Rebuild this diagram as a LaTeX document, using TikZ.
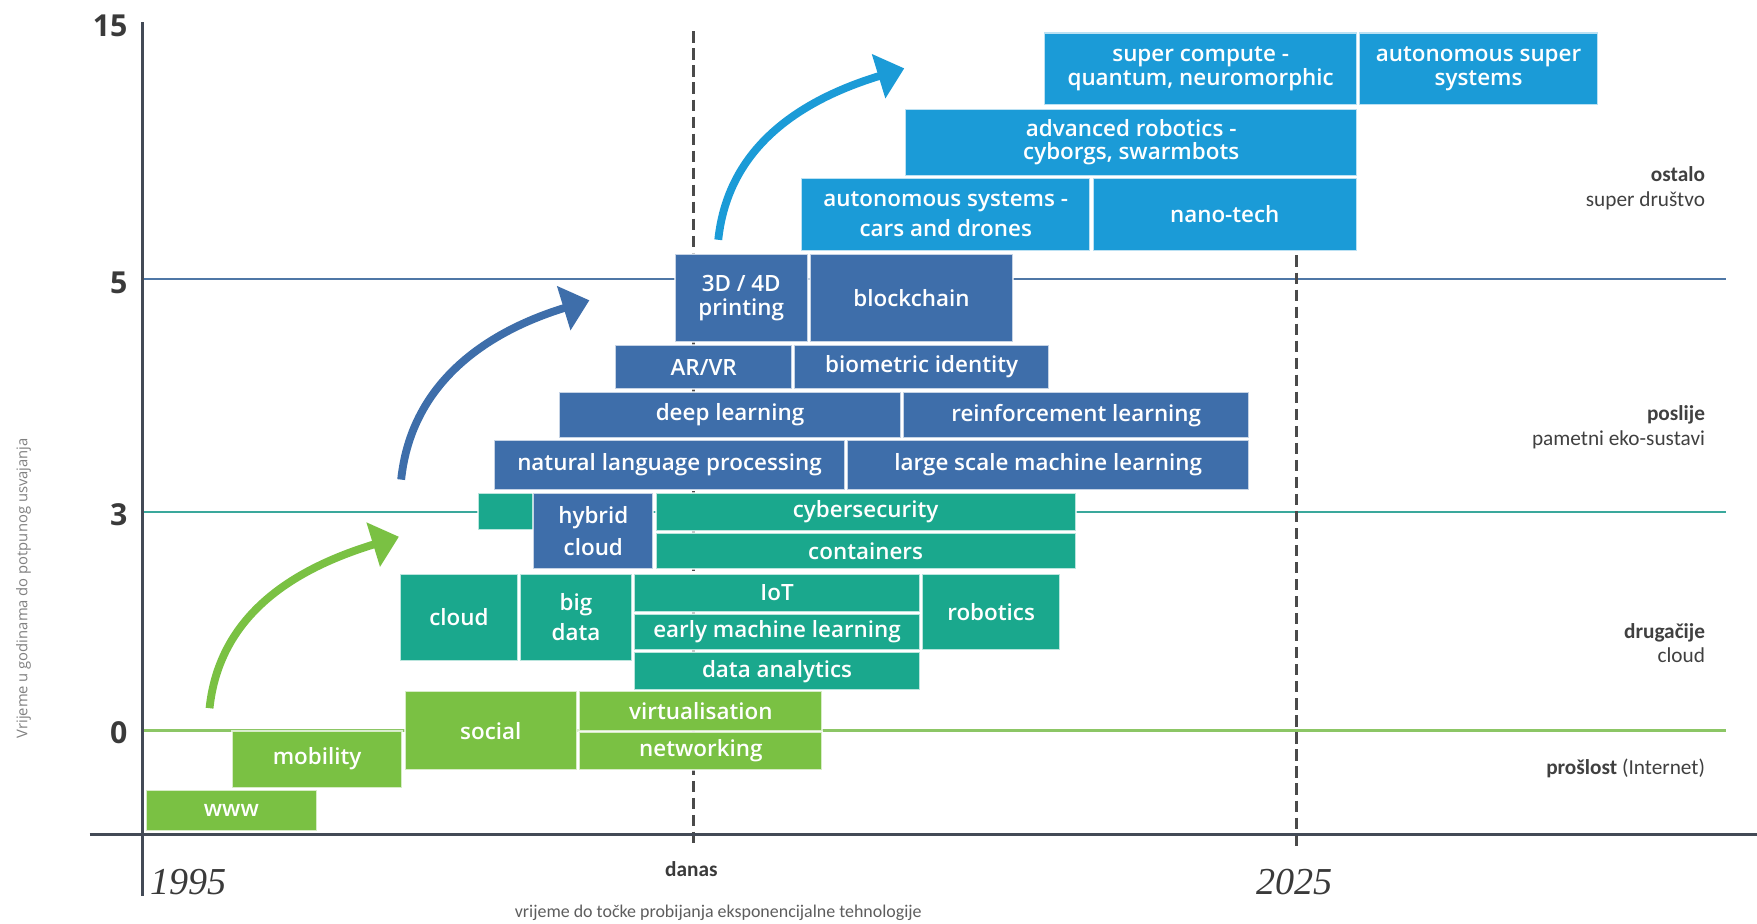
\documentclass[tikz,border=0pt]{standalone}
\usepackage{fontspec}
\setmainfont{Carlito}
\IfFontExistsTF{Open Sans SemiBold}{\newfontfamily\boxfont{Open Sans SemiBold}}{%
  \IfFontExistsTF{Open Sans Semibold}{\newfontfamily\boxfont{Open Sans Semibold}}{%
    \newfontfamily\boxfont[FakeBold=2]{Open Sans}}}
\newfontfamily\numfont{Open Sans}
\newfontfamily\yearfont{Liberation Serif}
\newfontfamily\rotfont{Open Sans}
\usetikzlibrary{arrows.meta}
\definecolor{cgreen}{HTML}{7AC143}
\definecolor{cteal}{HTML}{1AA88D}
\definecolor{cblue}{HTML}{3E6EAA}
\definecolor{clight}{HTML}{1B9BD7}
\definecolor{caxis}{HTML}{434A56}
\definecolor{cdash}{HTML}{4A4A4A}
\definecolor{cnum}{HTML}{3A3A3A}
\definecolor{clab}{HTML}{404040}
\definecolor{cl5}{HTML}{4F77A6}
\definecolor{cl3}{HTML}{3AA89C}
\definecolor{cl0}{HTML}{8CC665}
\tikzset{
  blkbase/.style={draw=white, draw opacity=0.7, line width=0.9pt, inner sep=0pt,
    text=white, align=center, font=\boxfont\fontsize{10}{10.5}\selectfont},
  gbox/.style={fill=cgreen}, tbox/.style={fill=cteal},
  bbox/.style={fill=cblue}, lbox/.style={fill=clight},
  axisline/.style={draw=caxis, line width=1.5pt},
  dashline/.style={draw=cdash, line width=1.3pt, dash pattern=on 5pt off 2.6pt},
  bigarrow/.style={line width=3.5pt, -{Triangle[length=12pt,width=20pt]}},
  numlab/.style={font=\numfont\bfseries\fontsize{13.5}{14}\selectfont, text=cnum, anchor=east, inner sep=0pt},
  yearlab/.style={font=\yearfont\itshape\fontsize{17}{17}\selectfont, text=cnum, inner sep=0pt},
  rlab/.style={anchor=east, inner sep=0pt, align=right, font=\fontsize{9.5}{11}\selectfont, text=clab},
}
\newcommand\blk[7]{%
  \pgfmathsetmacro\bw{(#5-#3)*0.5}\pgfmathsetmacro\bh{(#6-#4)*0.5}%
  \node[blkbase,#2,minimum width=\bw pt,minimum height=\bh pt] (#1) at ({(#3+#5)/2},{(#4+#6)/2}) {#7};}
\begin{document}
\begin{tikzpicture}[x=0.5pt,y=-0.5pt]
\useasboundingbox (0,0) rectangle (1568,824);
% level lines
\draw[cl5, line width=1pt] (127,249) -- (1540,249);
\draw[cl3, line width=1.2pt] (127,457) -- (1540,457);
\draw[cl0, line width=1.2pt] (127,652) -- (1540,652);
% dashed time markers
\draw[dashline] (619,28) -- (619,755);
\draw[dashline] (1157,228) -- (1157,755);
% axes
\draw[axisline] (127,20) -- (127,800);
\draw[axisline] (80,745) -- (1568,745);
% green
\blk{www}{gbox}{130}{705}{283}{742}{www}
\blk{mobility}{gbox}{207}{652}{359}{703}{mobility}
\blk{social}{gbox}{361}{617}{515}{687}{social}
\blk{virt}{gbox}{517}{617}{734}{652}{virtualisation}
\blk{netw}{gbox}{517}{653}{734}{687}{networking}
% teal
\blk{cloud}{tbox}{357}{512}{462}{590}{cloud}
\blk{bigdata}{tbox}{464}{512}{564}{590}{big\\[3pt]data}
\blk{iot}{tbox}{566}{512}{821}{546}{IoT}
\blk{eml}{tbox}{566}{548}{821}{580}{early machine learning}
\blk{dataan}{tbox}{566}{582}{821}{616}{data analytics}
\blk{robotics}{tbox}{823}{512}{946}{580}{robotics}
\blk{tealsmall}{tbox}{427}{440}{477}{473}{}
\blk{cyber}{tbox}{585}{440}{960}{474}{cybersecurity}
\blk{containers}{tbox}{585}{476}{960}{508}{containers}
% blue
\blk{hybrid}{bbox}{476}{440}{583}{508}{hybrid\\[4pt]cloud}
\blk{nlp}{bbox}{441}{393}{754}{437}{natural language processing}
\blk{lsml}{bbox}{756}{393}{1115}{437}{large scale machine learning}
\blk{deepl}{bbox}{499}{350}{804}{391}{deep learning}
\blk{reinf}{bbox}{806}{350}{1115}{391}{reinforcement learning}
\blk{arvr}{bbox}{549}{308}{707}{347}{AR/VR}
\blk{biom}{bbox}{709}{308}{936}{347}{biometric identity}
\blk{print}{bbox}{602}{227}{721}{305}{3D / 4D\\printing}
\blk{blockchain}{bbox}{723}{227}{904}{305}{blockchain}
% light blue
\blk{autosys}{lbox}{715}{159}{973}{224}{autonomous systems -\\[3pt]cars and drones}
\blk{nano}{lbox}{975}{159}{1211}{224}{nano-tech}
\blk{advrob}{lbox}{808}{97}{1211}{157}{advanced robotics -\\cyborgs, swarmbots}
\blk{supercomp}{lbox}{932}{29}{1211}{94}{super compute -\\quantum, neuromorphic}
\blk{autosuper}{lbox}{1213}{29}{1426}{94}{autonomous super\\systems}
% arrows
\coordinate (ga0) at (187,632); \coordinate (ga1) at (356,479);
\coordinate (ba0) at (358,428); \coordinate (ba1) at (526,268);
\coordinate (la0) at (641,214); \coordinate (la1) at (807,61);
\draw[bigarrow, cgreen] (ga0) to[out=84, in=197] (ga1);
\draw[bigarrow, cblue] (ba0) to[out=84, in=197] (ba1);
\draw[bigarrow, clight] (la0) to[out=84, in=197] (la1);
% axis labels
\node[numlab] (l15) at (114,23) {15};
\node[numlab] (l5) at (114,252) {5};
\node[numlab] (l3) at (114,459) {3};
\node[numlab] (l0) at (114,654) {0};
\node[yearlab, anchor=west] (y1995) at (134,787) {1995};
\node[yearlab] (y2025) at (1155,787) {2025};
\node[inner sep=0pt, text=cnum, font=\bfseries\fontsize{9.5}{11}\selectfont] (danas) at (617,776) {danas};
\node[inner sep=0pt, text=clab!85, font=\fontsize{8}{10}\selectfont] (xlab) at (641,815) {vrijeme do točke probijanja eksponencijalne tehnologije};
\node[inner sep=0pt, rotate=90, text=black!50, font=\rotfont\fontsize{6.6}{8}\selectfont] (ylab) at (21,525) {Vrijeme u godinama do potpunog usvajanja};
% right labels
\node[rlab] (r1) at (1522,168) {\textbf{ostalo}\\super društvo};
\node[rlab] (r2) at (1522,381) {\textbf{poslije}\\pametni eko-sustavi};
\node[rlab] (r3) at (1522,574) {\textbf{drugačije}\\cloud};
\node[rlab] (r4) at (1522,686) {\textbf{prošlost} (Internet)};
\end{tikzpicture}
\end{document}
